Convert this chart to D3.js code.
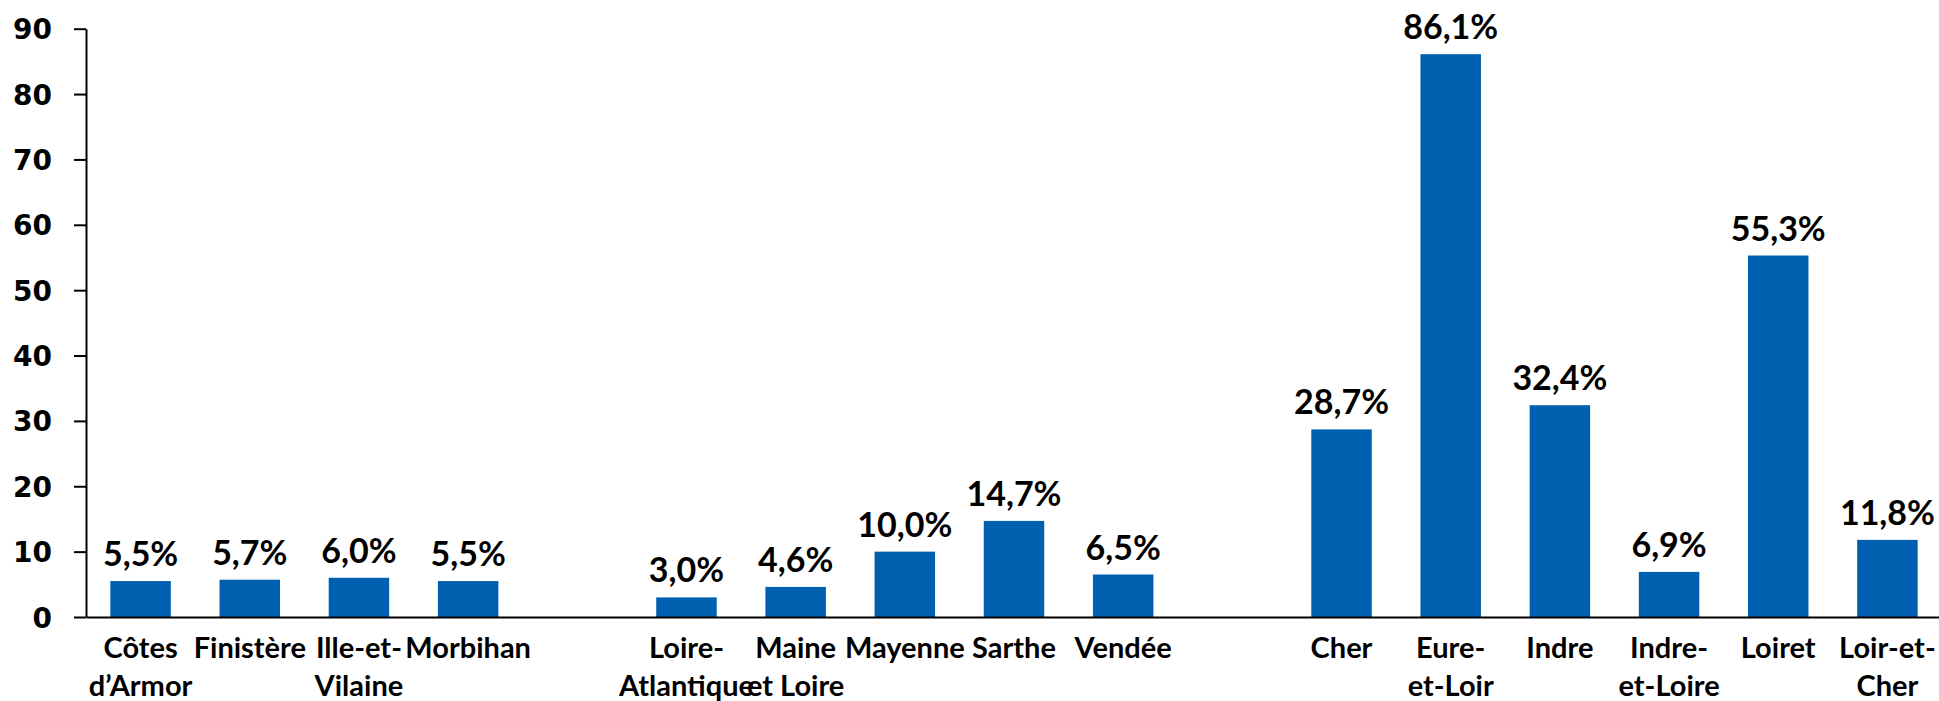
<!DOCTYPE html>
<html>
<head>
<meta charset="utf-8">
<script src="https://cdn.jsdelivr.net/npm/d3@7"></script>
<style>
  body { margin: 0; background: #fff; }
  .ytick text { font-family: "DejaVu Sans", Verdana, sans-serif; font-weight: bold; font-size: 28px; }
  .xlabel { font-family: Lato, "Noto Sans", sans-serif; font-weight: bold; font-size: 29px; }
  .vlabel { font-family: Lato, "Noto Sans", sans-serif; font-weight: bold; font-size: 34px; }
</style>
</head>
<body>
<div id="chart"></div>
<script>
// departements, empty strings are the gaps between regions
var categories = ["Côtes\nd’Armor", "Finistère", "Ille-et-\nVilaine", "Morbihan", "",
  "Loire-\nAtlantique", "Maine\net Loire", "Mayenne", "Sarthe", "Vendée", "",
  "Cher", "Eure-\net-Loir", "Indre", "Indre-\net-Loire", "Loiret", "Loir-et-\nCher"];
var values = [5.5, 5.7, 6.0, 5.5, null,
  3.0, 4.6, 10.0, 14.7, 6.5, null,
  28.7, 86.1, 32.4, 6.9, 55.3, 11.8];
var yTicks = [0, 10, 20, 30, 40, 50, 60, 70, 80, 90];

var svgWidth = 1939;
var svgHeight = 701;

var margin = { top: 28.7, left: 86, bottom: 84 };
var plotBottom = svgHeight - margin.bottom; // ~617

var svg = d3.select("#chart")
  .append("svg")
  .attr("width", svgWidth)
  .attr("height", svgHeight);

var x = d3.scaleBand()
  .domain(d3.range(categories.length))
  .range([margin.left, 1942])
  .paddingInner(0.446)
  .paddingOuter(0.223);

var y = d3.scaleLinear()
  .domain([0, 90])
  .range([plotBottom, margin.top]);

// bars
var data = values.map(function(v, i) { return { i: i, v: v }; })
  .filter(function(d) { return d.v !== null; });

svg.append("g")
  .selectAll("rect")
  .data(data)
  .enter()
  .append("rect")
  .attr("x", d => x(d.i))
  .attr("y", d => y(d.v))
  .attr("width", x.bandwidth())
  .attr("height", d => y(0) - y(d.v))
  .attr("fill", "#0060B0");

// value labels
var fmt = d3.format(".1f");
svg.append("g")
  .selectAll("text")
  .data(data)
  .enter()
  .append("text")
  .attr("class", "vlabel")
  .attr("x", d => x(d.i) + x.bandwidth() / 2)
  .attr("y", d => y(d.v) - 15)
  .attr("text-anchor", "middle")
  .text(d => fmt(d.v).replace(".", ",") + "%");

// y axis
var yAxis = svg.append("g")
  .attr("class", "ytick")
  .attr("transform", `translate(${margin.left},0)`)
  .call(d3.axisLeft(y).tickValues(yTicks).tickSize(12).tickSizeOuter(0).tickPadding(22));
yAxis.select(".domain").attr("stroke", "#000").attr("stroke-width", 2);
yAxis.selectAll(".tick line").attr("stroke", "#000").attr("stroke-width", 2);
yAxis.selectAll(".tick text").attr("fill", "#000").attr("dy", "0.36em");

// x axis
var xAxis = svg.append("g")
  .attr("transform", `translate(0,${plotBottom})`)
  .call(d3.axisBottom(x).tickSize(0).tickSizeOuter(0).tickFormat(""));
xAxis.select(".domain").attr("stroke", "#000").attr("stroke-width", 2);

var labels = svg.append("g")
  .selectAll("text")
  .data(categories)
  .enter()
  .append("text")
  .attr("class", "xlabel")
  .attr("text-anchor", "middle")
  .attr("x", (d, i) => x(i) + x.bandwidth() / 2)
  .attr("y", plotBottom + 41);

labels.each(function(d) {
  var t = d3.select(this);
  d.split("\n").forEach(function(line, k) {
    t.append("tspan")
      .attr("x", t.attr("x"))
      .attr("dy", k === 0 ? 0 : 38)
      .text(line);
  });
});
</script>
</body>
</html>
